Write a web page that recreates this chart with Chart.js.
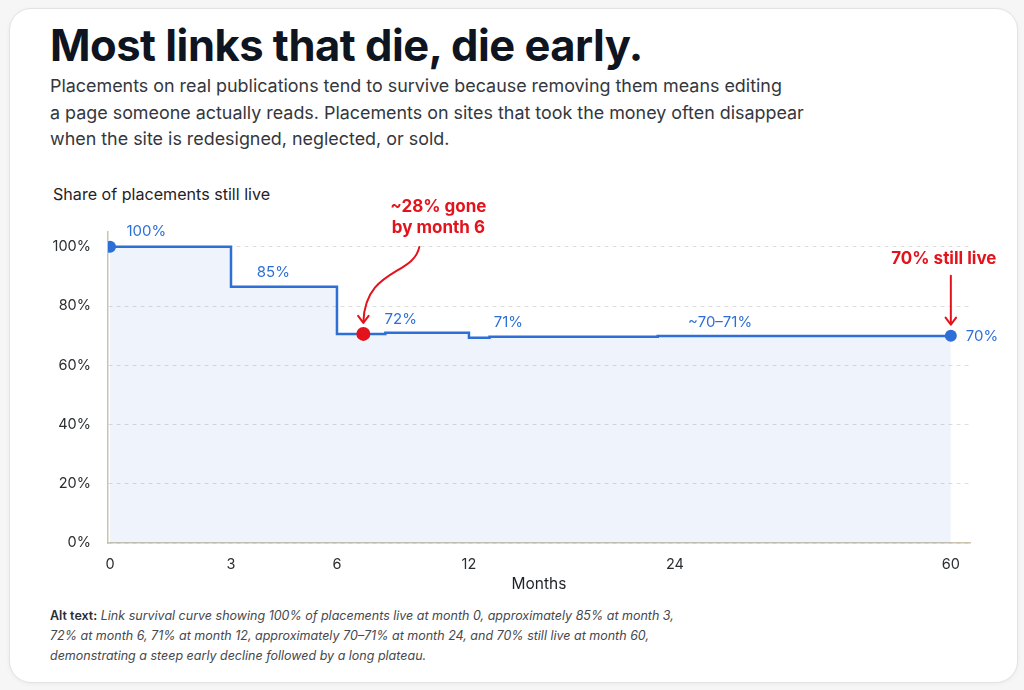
<!DOCTYPE html>
<html>
<head>
<meta charset="utf-8">
<script src="https://cdn.jsdelivr.net/npm/chart.js@4.4.1/dist/chart.umd.min.js"></script>
<style>
  html, body { margin:0; padding:0; width:1024px; height:690px; overflow:hidden; background:#f6f6f7; font-family: Inter, Roboto, sans-serif; }
  .card { position:absolute; left:9px; top:8px; width:1009px; height:675px; background:#fff; border:1px solid #e3e3e6; border-radius:22px; box-sizing:border-box; box-shadow:0 1px 4px rgba(0,0,0,0.05); }
  h1 { position:absolute; left:50px; top:24px; margin:0; font:700 43.5px/43.5px Inter, sans-serif; letter-spacing:-0.5px; color:#0e1420; white-space:nowrap; }
  .sub { position:absolute; left:50px; top:73px; font:400 17.9px/26.5px Inter, sans-serif; color:#34373d; white-space:nowrap; }
  .ylab { position:absolute; left:53px; top:184px; font:400 16.1px/20px Inter, sans-serif; color:#1f2227; white-space:nowrap; }
  .alt { position:absolute; left:50px; top:606px; font:italic 400 12.5px/20px Inter, sans-serif; color:#45484d; white-space:nowrap; }
  .alt b { font-style:normal; font-weight:600; color:#2a2d31; }
  .wrap { position:absolute; left:0; top:170px; width:1024px; height:430px; }
</style>
</head>
<body>
<div class="card"></div>
<h1>Most links that die, die early.</h1>
<div class="sub">Placements on real publications tend to survive because removing them means editing<br>a page someone actually reads. Placements on sites that took the money often disappear<br>when the site is redesigned, neglected, or sold.</div>
<div class="ylab">Share of placements still live</div>
<div class="wrap"><canvas id="c"></canvas></div>
<div class="alt"><b>Alt text:</b> Link survival curve showing 100% of placements live at month 0, approximately 85% at month 3,<br>72% at month 6, 71% at month 12, approximately 70–71% at month 24, and 70% still live at month 60,<br>demonstrating a steep early decline followed by a long plateau.</div>
<script>
// ---- data ----
const MONTHS   = [0, 3, 6, 8.2, 12, 13.2, 23, 60];
const SURVIVAL = [100, 86.5, 70.6, 71.0, 69.3, 69.6, 69.9, 70.0];
const X_TICKS  = [0, 3, 6, 12, 24, 60];
const Y_TICKS  = [0, 20, 40, 60, 80, 100];
const MARKER_MONTHS = [0, 7.2, 60];
const MARKER_VALUES = [100, 70.6, 70.0];
const VALUE_LABELS       = ['100%', '85%', '72%', '71%', '~70–71%', '70%'];
const VALUE_LABEL_MONTHS = [0.9, 4.2, 8.9, 14.3, 29.9, 60];
const VALUE_LABEL_VALUES = [100, 86.5, 71.0, 69.6, 69.9, 70.0];
const CALLOUT_TEXT_1 = ['~28% gone', 'by month 6'];
const CALLOUT_TEXT_2 = ['70% still live'];

// ---- non-uniform month axis (piecewise) ----
const AXIS_MONTHS = [0, 3, 6, 12, 24, 60];
const AXIS_UNITS  = [0, 121, 227, 359, 565, 841];
function warp(m) {
  const A = AXIS_MONTHS, U = AXIS_UNITS;
  let i = 0;
  while (i < A.length - 2 && m > A[i + 1]) i++;
  return U[i] + (m - A[i]) * (U[i + 1] - U[i]) / (A[i + 1] - A[i]);
}
function unwarp(u) {
  const A = AXIS_MONTHS, U = AXIS_UNITS;
  let i = 0;
  while (i < U.length - 2 && u > U[i + 1]) i++;
  return A[i] + (u - U[i]) * (A[i + 1] - A[i]) / (U[i + 1] - U[i]);
}
class WarpScale extends Chart.LinearScale {
  determineDataLimits() {
    this.min = warp(this.options.min);
    this.max = warp(this.options.max);
  }
  buildTicks() {
    return X_TICKS.map(v => ({ value: v }));
  }
  getPixelForValue(v) { return super.getPixelForValue(warp(v)); }
  getValueForPixel(p) { return unwarp(super.getValueForPixel(p)); }
}
WarpScale.id = 'warp';
WarpScale.defaults = Chart.LinearScale.defaults;
Chart.register(WarpScale);

const BLUE = '#2d6fd6';
const RED = '#e3121b';
const AXIS_COLOR = '#cbc3b0';

const LABEL_STYLE = { dy: [-15, -14, -13, -14, -13, 1], dx: [0, 0, 0, 0, 0, 15], align: ['center','center','center','center','center','left'] };

function arrowHead(ctx, x, y, ang, size) {
  ctx.save();
  ctx.translate(x, y);
  ctx.rotate(ang);
  ctx.beginPath();
  ctx.moveTo(-size * 0.75, -size);
  ctx.lineTo(0, 0);
  ctx.lineTo(size * 0.75, -size);
  ctx.stroke();
  ctx.restore();
}

const annotations = {
  id: 'annotations',
  afterDatasetsDraw(chart) {
    const { ctx, scales: { x, y } } = chart;
    ctx.save();
    ctx.font = '400 15px Inter, sans-serif';
    ctx.fillStyle = BLUE;
    ctx.textBaseline = 'middle';
    VALUE_LABELS.forEach((t, i) => {
      ctx.textAlign = LABEL_STYLE.align[i];
      ctx.fillText(t, x.getPixelForValue(VALUE_LABEL_MONTHS[i]) + LABEL_STYLE.dx[i],
                      y.getPixelForValue(VALUE_LABEL_VALUES[i]) + LABEL_STYLE.dy[i]);
    });

    // callout 1: curved arrow to the red marker
    const rx = x.getPixelForValue(MARKER_MONTHS[1]);
    const ry = y.getPixelForValue(MARKER_VALUES[1]);
    ctx.fillStyle = RED;
    ctx.strokeStyle = RED;
    ctx.font = '700 17px Inter, sans-serif';
    ctx.textAlign = 'center';
    CALLOUT_TEXT_1.forEach((t, i) => ctx.fillText(t, rx + 75, ry - 127 + i * 21));
    ctx.lineWidth = 2;
    ctx.lineCap = 'round';
    ctx.lineJoin = 'round';
    ctx.beginPath();
    ctx.moveTo(rx + 56, ry - 87);
    ctx.bezierCurveTo(rx + 50, ry - 58, rx + 2, ry - 66, rx, ry - 12);
    ctx.stroke();
    arrowHead(ctx, rx, ry - 11, 0, 7);

    // callout 2: straight arrow to the end marker
    const ex = x.getPixelForValue(MARKER_MONTHS[2]);
    const ey = y.getPixelForValue(MARKER_VALUES[2]);
    CALLOUT_TEXT_2.forEach((t, i) => ctx.fillText(t, ex - 7, ey - 77 + i * 21));
    ctx.beginPath();
    ctx.moveTo(ex, ey - 60);
    ctx.lineTo(ex, ey - 12);
    ctx.stroke();
    arrowHead(ctx, ex, ey - 11, 0, 7);
    ctx.restore();
  }
};

new Chart(document.getElementById('c'), {
  type: 'line',
  data: {
    datasets: [
      {
        type: 'scatter',
        data: MARKER_MONTHS.map((m, i) => ({ x: m, y: MARKER_VALUES[i] })),
        pointRadius: [6, 7, 6],
        pointBackgroundColor: [BLUE, RED, BLUE],
        pointBorderWidth: 0,
        pointHoverRadius: [6, 7, 6],
        order: 0
      },
      {
        data: MONTHS.map((m, i) => ({ x: m, y: SURVIVAL[i] })),
        stepped: 'before',
        borderColor: BLUE,
        borderWidth: 2.5,
        fill: 'origin',
        backgroundColor: 'rgba(45,111,214,0.08)',
        pointRadius: 0,
        order: 1
      }
    ]
  },
  options: {
    responsive: true,
    maintainAspectRatio: false,
    animation: false,
    events: [],
    layout: { padding: { left: 0, right: 54, top: 62, bottom: 0 } },
    plugins: { legend: { display: false }, tooltip: { enabled: false } },
    scales: {
      x: {
        type: 'warp',
        min: -0.05,
        max: 62.5,
        grid: { display: false, drawTicks: false },
        border: { display: true, color: AXIS_COLOR, width: 1.5 },
        ticks: { color: '#2a2d31', font: { family: 'Inter', size: 14.5 }, padding: 13, maxRotation: 0, autoSkip: false, callback: v => String(v) },
        title: { display: true, text: 'Months', color: '#1f2227', font: { family: 'Inter', size: 15.5 }, padding: { top: 0, bottom: 6 } },
        afterFit: s => { s.height = 57; }
      },
      y: {
        min: 0,
        max: 105,
        afterBuildTicks: s => { s.ticks = Y_TICKS.map(v => ({ value: v })); },
        grid: { color: '#dedede', drawTicks: false, lineWidth: 1 },
        border: { display: true, color: AXIS_COLOR, width: 1.5, dash: [4, 4] },
        ticks: { color: '#2a2d31', font: { family: 'Inter', size: 14.5 }, padding: 17, callback: v => v + '%' },
        afterFit: s => { s.width = 108; }
      }
    }
  },
  plugins: [annotations]
});
</script>
</body>
</html>
